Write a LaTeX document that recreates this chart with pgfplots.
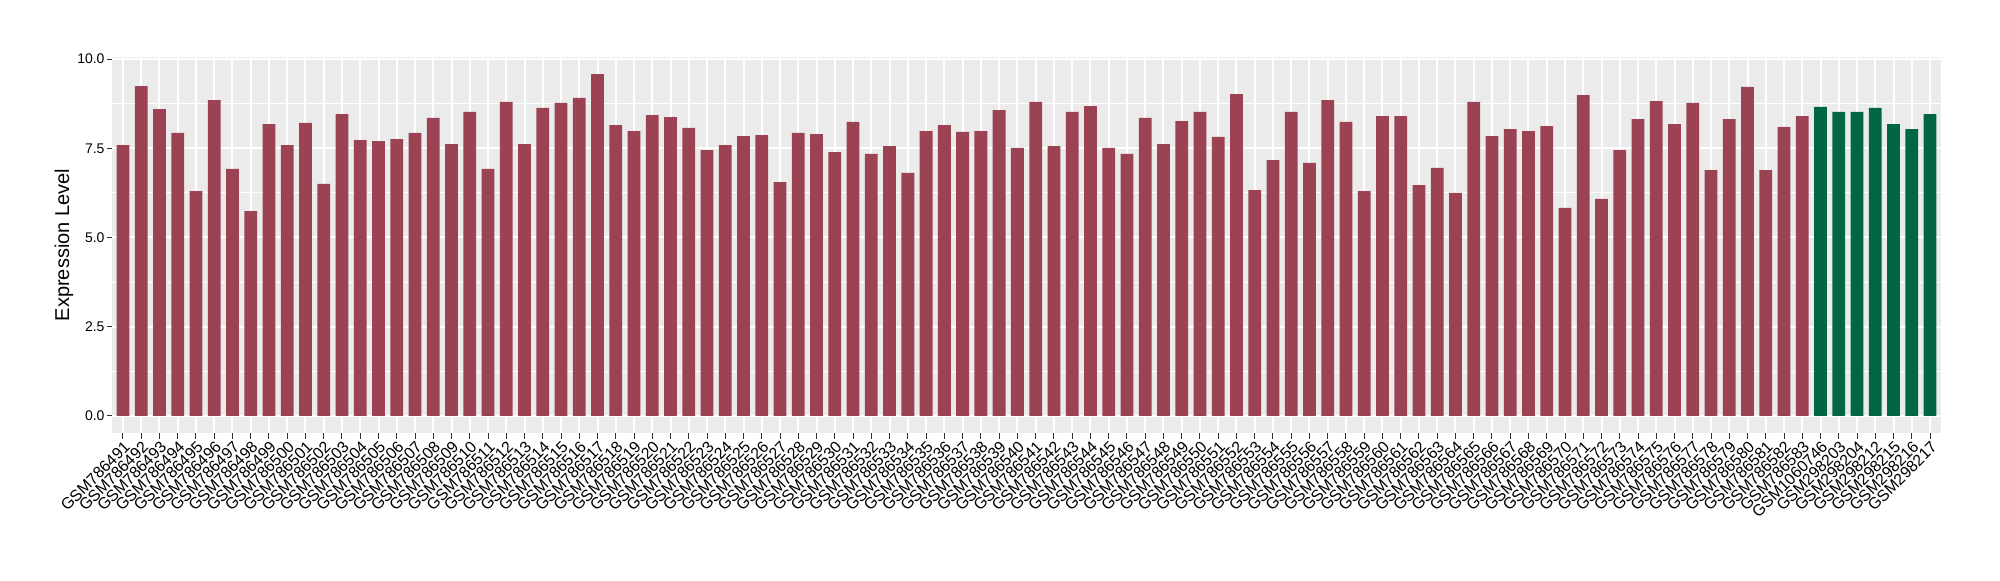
\documentclass[border=0pt]{standalone}
\usepackage{pgfplots}
\pgfplotsset{compat=1.18}
\usepackage{pgfplotstable}
\usepackage{fontspec}
\setmainfont{Liberation Sans}
\definecolor{redbar}{HTML}{9B4352}
\definecolor{greenbar}{HTML}{006644}
\definecolor{panelbg}{HTML}{EBEBEB}
\definecolor{tickgray}{HTML}{333333}

\pgfplotstableread{
x y
1 7.59
2 9.24
3 8.60
4 7.93
5 6.30
6 8.85
7 6.92
8 5.74
9 8.18
10 7.59
11 8.21
12 6.50
13 8.46
14 7.73
15 7.70
16 7.76
17 7.93
18 8.35
19 7.62
20 8.52
21 6.92
22 8.80
23 7.62
24 8.63
25 8.77
26 8.91
27 9.58
28 8.15
29 7.98
30 8.43
31 8.37
32 8.07
33 7.45
34 7.59
35 7.84
36 7.87
37 6.55
38 7.93
39 7.90
40 7.39
41 8.24
42 7.34
43 7.56
44 6.81
45 7.98
46 8.15
47 7.96
48 7.98
49 8.57
50 7.51
51 8.80
52 7.56
53 8.52
54 8.68
55 7.51
56 7.34
57 8.35
58 7.62
59 8.26
60 8.52
61 7.82
62 9.02
63 6.33
64 7.17
65 8.52
66 7.09
67 8.85
68 8.24
69 6.30
70 8.40
71 8.40
72 6.47
73 6.95
74 6.25
75 8.80
76 7.84
77 8.04
78 7.98
79 8.12
80 5.83
81 8.99
82 6.08
83 7.45
84 8.32
85 8.82
86 8.18
87 8.77
88 6.89
89 8.32
90 9.22
91 6.89
92 8.10
93 8.40
}\reddata

\pgfplotstableread{
x y
94 8.66
95 8.52
96 8.52
97 8.63
98 8.18
99 8.04
100 8.46
}\greendata

\begin{document}
\begin{tikzpicture}
\begin{axis}[
  at={(0,0)}, anchor=south west,
  scale only axis, width=914.5pt, height=188pt,
  xmin=0.4, xmax=100.6, ymin=-0.479, ymax=10.058,
  axis background/.style={fill=panelbg},
  axis line style={draw=none},
  ytick={0,2.5,5,7.5,10},
  yticklabels={0.0,2.5,5.0,7.5,10.0},
  minor ytick={1.25,3.75,6.25,8.75},
  xtick={1,...,100},
  xticklabels={GSM786491,GSM786492,GSM786493,GSM786494,GSM786495,GSM786496,GSM786497,GSM786498,GSM786499,GSM786500,GSM786501,GSM786502,GSM786503,GSM786504,GSM786505,GSM786506,GSM786507,GSM786508,GSM786509,GSM786510,GSM786511,GSM786512,GSM786513,GSM786514,GSM786515,GSM786516,GSM786517,GSM786518,GSM786519,GSM786520,GSM786521,GSM786522,GSM786523,GSM786524,GSM786525,GSM786526,GSM786527,GSM786528,GSM786529,GSM786530,GSM786531,GSM786532,GSM786533,GSM786534,GSM786535,GSM786536,GSM786537,GSM786538,GSM786539,GSM786540,GSM786541,GSM786542,GSM786543,GSM786544,GSM786545,GSM786546,GSM786547,GSM786548,GSM786549,GSM786550,GSM786551,GSM786552,GSM786553,GSM786554,GSM786555,GSM786556,GSM786557,GSM786558,GSM786559,GSM786560,GSM786561,GSM786562,GSM786563,GSM786564,GSM786565,GSM786566,GSM786567,GSM786568,GSM786569,GSM786570,GSM786571,GSM786572,GSM786573,GSM786574,GSM786575,GSM786576,GSM786577,GSM786578,GSM786579,GSM786580,GSM786581,GSM786582,GSM786583,GSM1060746,GSM298203,GSM298204,GSM298212,GSM298215,GSM298216,GSM298217},
  ymajorgrids, yminorgrids, xmajorgrids,
  major grid style={white, line width=1pt},
  minor grid style={white, line width=0.5pt},
  tick align=outside,
  xtick pos=bottom, ytick pos=left,
  major tick length=2.75pt,
  minor tick length=0pt,
  tick style={tickgray, line width=0.5pt},
  x tick label style={rotate=45, anchor=north east, inner sep=0.5pt, font=\fontsize{8}{9}\selectfont},
  y tick label style={inner sep=0.8pt, font=\fontsize{7}{8}\selectfont},
  ybar, bar shift=0pt, bar width=0.7,
]
\addplot[fill=redbar, draw=none] table[x=x, y=y] {\reddata};
\addplot[fill=greenbar, draw=none] table[x=x, y=y] {\greendata};
\end{axis}
\node[rotate=90, font=\fontsize{10}{12}\selectfont] at (-24pt,94pt) {Expression Level};
\pgfresetboundingbox
\path[use as bounding box] (-56pt,-73.5pt) rectangle (944pt,216.5pt);
\end{tikzpicture}
\end{document}
